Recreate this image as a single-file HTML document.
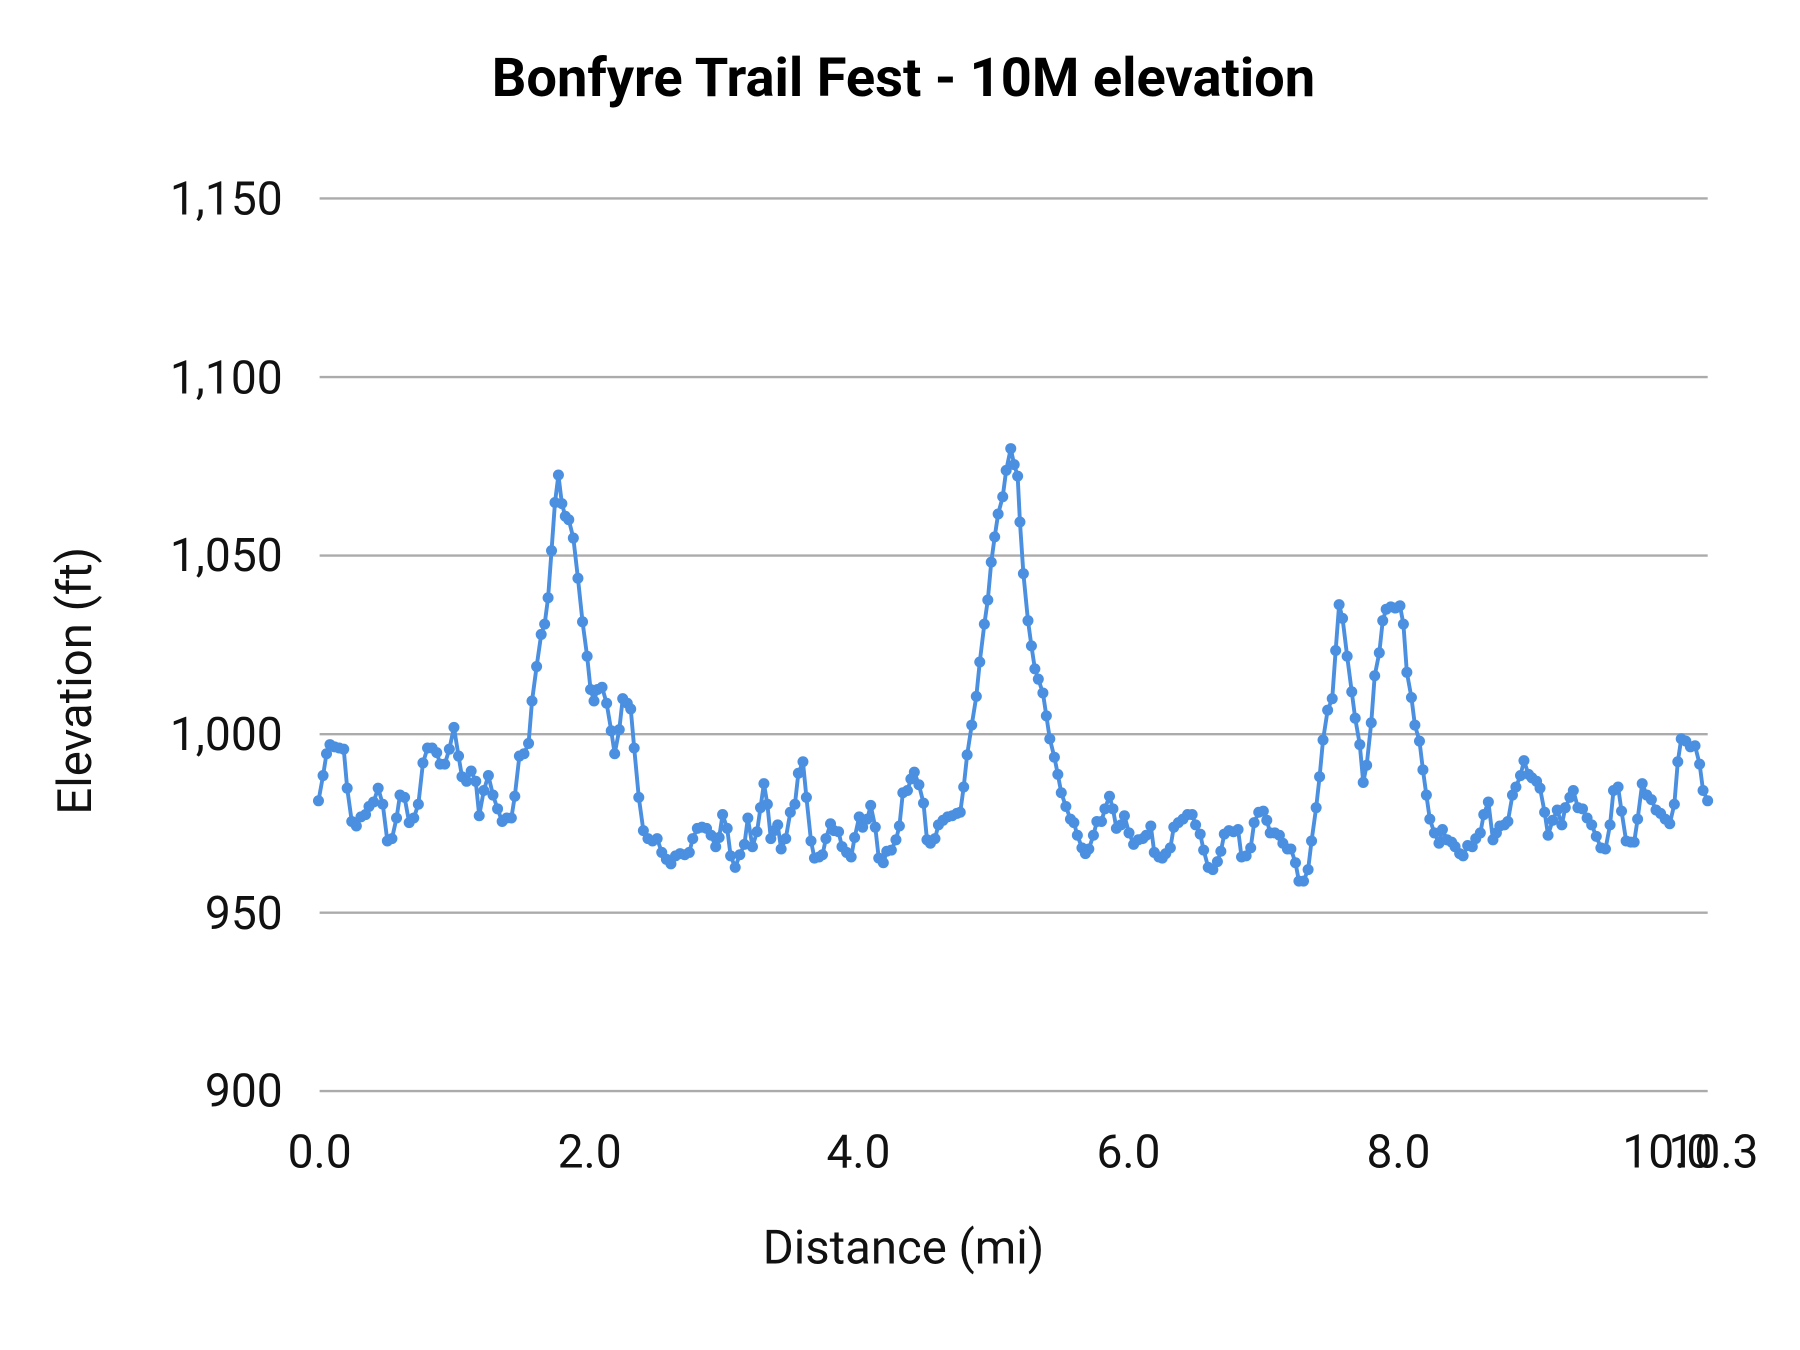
<!DOCTYPE html>
<html><head><meta charset="utf-8"><style>html,body{margin:0;padding:0;background:#fff}svg{display:block}</style></head>
<body>
<svg id="s" width="1800" height="1350" viewBox="0 0 1560 1170" xmlns="http://www.w3.org/2000/svg" font-family="Roboto, 'Liberation Sans', sans-serif">
<rect width="1560" height="1170" fill="#fff"/>
<text x="783" y="83" text-anchor="middle" font-size="47" font-weight="bold" fill="#000">Bonfyre Trail Fest - 10M elevation</text>
<g stroke="#ababab" stroke-width="2">
<line x1="277" x2="1480" y1="172" y2="172"/>
<line x1="277" x2="1480" y1="326.8" y2="326.8"/>
<line x1="277" x2="1480" y1="481.5" y2="481.5"/>
<line x1="277" x2="1480" y1="636.3" y2="636.3"/>
<line x1="277" x2="1480" y1="791" y2="791"/>
<line x1="277" x2="1480" y1="945.6" y2="945.6"/>
</g>
<g font-size="40" fill="#111" text-anchor="end">
<text x="245" y="186">1,150</text>
<text x="245" y="341">1,100</text>
<text x="245" y="495">1,050</text>
<text x="245" y="650">1,000</text>
<text x="245" y="805">950</text>
<text x="245" y="959">900</text>
</g>
<g font-size="40" fill="#111" text-anchor="middle">
<text x="277" y="1012">0.0</text>
<text x="511" y="1012">2.0</text>
<text x="744" y="1012">4.0</text>
<text x="978" y="1012">6.0</text>
<text x="1212" y="1012">8.0</text>
<text x="1445" y="1012">10.0</text>
<text x="1485" y="1012">10.3</text>
</g>
<text x="783" y="1095" text-anchor="middle" font-size="41" fill="#111">Distance (mi)</text>
<text transform="translate(79,590) rotate(-90)" text-anchor="middle" font-size="41" fill="#111">Elevation (ft)</text>
<g id="d" transform="matrix(0.995,0,0,0.99434,-0.6,0.97)"></g>
</svg>
<script>
var p=[278,697,282,675,285,656,288,648,292,650,296,651,300,652,303,686,307,715,311,719,315,711,319,709,322,702,326,698,330,686,334,700,338,732,342,730,346,712,349,692,353,694,357,716,361,712,365,700,369,664,373,651,377,651,381,655,384,665,388,665,392,652,396,633,400,658,403,676,407,680,411,671,415,680,418,710,422,688,426,675,430,692,434,704,438,715,442,712,446,712,449,693,453,658,457,656,461,647,464,610,468,580,472,552,475,543,478,520,481,479,484,437,487,413,490,438,493,449,496,452,500,468,504,503,508,541,512,571,515,600,518,610,521,600,525,598,529,612,533,636,536,656,540,635,543,608,547,612,550,617,553,651,557,694,561,723,565,730,569,732,573,730,577,742,581,748,585,752,589,745,593,743,597,744,601,742,604,730,608,721,612,720,616,721,620,727,624,737,627,729,630,709,634,721,637,745,641,755,645,744,649,735,652,712,656,737,660,724,663,703,666,682,669,700,672,730,675,723,678,718,681,739,685,730,689,707,693,700,696,673,700,663,703,694,707,732,710,747,714,746,717,744,720,730,724,717,727,723,731,724,734,737,738,742,742,746,745,729,749,711,752,720,756,713,759,701,763,720,766,747,770,751,773,741,777,740,781,731,784,719,787,690,791,688,794,678,797,672,801,683,805,699,808,731,811,734,815,730,818,718,822,714,826,711,830,710,834,708,837,707,840,685,843,657,847,631,851,606,854,576,858,543,861,522,864,489,867,467,870,447,874,432,877,409,881,390,884,404,887,414,889,454,892,499,896,540,899,562,902,582,905,591,909,603,912,623,915,643,919,659,922,674,925,690,929,702,933,713,936,716,939,727,943,738,946,743,949,739,953,727,956,715,960,715,963,704,967,693,970,704,973,721,977,718,980,710,984,725,988,735,992,731,996,730,999,727,1003,719,1006,742,1010,746,1013,747,1016,743,1020,738,1023,720,1027,716,1031,713,1035,709,1039,709,1042,718,1046,726,1049,740,1053,755,1057,757,1061,750,1064,741,1067,726,1071,723,1075,724,1079,722,1082,746,1086,745,1090,738,1093,716,1097,707,1101,706,1104,714,1107,725,1111,725,1115,727,1118,734,1122,739,1125,739,1129,751,1132,767,1136,767,1140,757,1143,732,1147,703,1150,676,1153,644,1157,618,1161,608,1164,566,1167,526,1170,538,1174,571,1178,602,1181,625,1185,648,1188,681,1191,666,1195,629,1198,588,1202,568,1205,540,1208,530,1212,528,1216,529,1220,527,1223,543,1226,585,1230,607,1233,631,1237,645,1240,670,1243,692,1246,713,1250,725,1254,734,1257,722,1261,731,1265,733,1268,737,1272,743,1275,745,1279,736,1283,737,1286,730,1290,725,1293,709,1297,698,1301,731,1304,725,1307,719,1311,718,1314,715,1318,692,1321,685,1325,675,1328,662,1332,674,1335,677,1339,680,1342,686,1346,707,1349,727,1353,714,1357,705,1361,718,1364,703,1368,694,1371,688,1375,703,1379,704,1383,712,1387,718,1391,728,1395,738,1399,739,1403,718,1406,688,1410,685,1413,706,1417,732,1421,733,1424,733,1427,713,1431,682,1435,692,1439,696,1443,705,1447,708,1451,713,1455,717,1459,700,1462,663,1465,643,1469,645,1473,650,1477,649,1481,665,1484,688,1488,697];
var ns="http://www.w3.org/2000/svg",g=document.getElementById("d");
var pts=[];for(var i=0;i<p.length;i+=2)pts.push(p[i]+","+p[i+1]);
var pl=document.createElementNS(ns,"polyline");pl.setAttribute("points",pts.join(" "));
pl.setAttribute("fill","none");pl.setAttribute("stroke","#4a8fe0");pl.setAttribute("stroke-width","3.4");pl.setAttribute("stroke-linejoin","round");g.appendChild(pl);
for(var i=0;i<p.length;i+=2){var c=document.createElementNS(ns,"circle");c.setAttribute("cx",p[i]);c.setAttribute("cy",p[i+1]);c.setAttribute("r","4.8");c.setAttribute("fill","#4a8fe0");g.appendChild(c);}
</script>
</body></html>
